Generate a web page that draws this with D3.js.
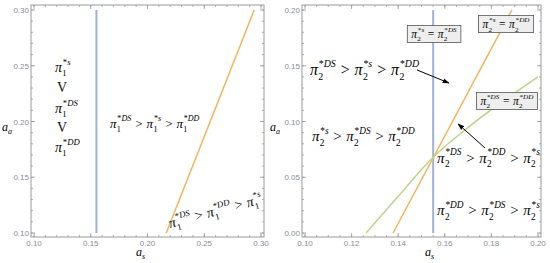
<!DOCTYPE html>
<html>
<head>
<meta charset="utf-8">
<script src="https://cdn.jsdelivr.net/npm/d3@7"></script>
<style>
  body { margin: 0; background: #fff; }
  svg { display: block; }
  text { font-family: "Liberation Serif", "DejaVu Serif", serif; }
  .tick-label { font-family: "Liberation Sans", Arial, sans-serif; font-size: 8px; fill: #8c8c96; }
</style>
</head>
<body>
<svg id="chart"></svg>
<script>
// ---- data ----
const blueAs = 0.155;
const leftTicks = [0.10, 0.15, 0.20, 0.25, 0.30];
const rightXTicks = [0.10, 0.12, 0.14, 0.16, 0.18, 0.20];
const rightYTicks = [0.00, 0.05, 0.10, 0.15, 0.20];
const leftOrange = [{as: 0.2165, aa: 0.10}, {as: 0.294, aa: 0.30}];
const rightOrange = [{as: 0.1378, aa: 0.00}, {as: 0.1888, aa: 0.20}];
const rightGreen = [
    {as: 0.1262, aa: 0.000},
    {as: 0.140, aa: 0.033},
    {as: 0.155, aa: 0.068},
    {as: 0.169, aa: 0.093},
    {as: 0.200, aa: 0.140}
];

const width = 550, height = 263;
const svg = d3.select("#chart").attr("width", width).attr("height", height);

const blue = "#9db2d8", orange = "#f2b45a", green = "#bdd38a";

// arrow marker
svg.append("defs").append("marker")
    .attr("id", "head")
    .attr("viewBox", "0 0 10 10")
    .attr("refX", 9).attr("refY", 5)
    .attr("markerWidth", 7).attr("markerHeight", 7)
    .attr("orient", "auto")
    .append("path").attr("d", "M0,1.5 L10,5 L0,8.5 Z").attr("fill", "#000");

// draws pi terms like  π_1^{*DS} > π_1^{*s}
function mathText(g, x, y, parts, fs) {
    const t = g.append("g").attr("transform", `translate(${x},${y})`);
    let cx = 0;
    parts.forEach(p => {
        if (p.op) {
            const e = t.append("text").attr("x", cx + fs * 0.3).attr("font-size", fs).text(p.op);
            cx += fs * 0.6 + e.node().getComputedTextLength();
        } else {
            const e = t.append("text").attr("x", cx).attr("font-size", fs)
                .attr("font-style", "italic").text("π");
            cx += e.node().getComputedTextLength();
            const sub = t.append("text").attr("x", cx + 0.3).attr("y", fs * 0.3)
                .attr("font-size", fs * 0.62).text(p.sub);
            const sup = t.append("text").attr("x", cx + 0.8).attr("y", -fs * 0.5)
                .attr("font-size", fs * 0.62);
            sup.append("tspan").text("*");
            sup.append("tspan").attr("font-style", "italic").text(p.sup);
            cx += Math.max(sub.node().getComputedTextLength(), sup.node().getComputedTextLength()) + 1;
        }
    });
    return {g: t, width: cx};
}

function drawFrame(g, x, y, frame, xMajors, xMinors, yMajors, yMinors, xFmt, yFmt) {
    g.append("rect")
        .attr("x", frame.x0).attr("y", frame.y0)
        .attr("width", frame.x1 - frame.x0).attr("height", frame.y1 - frame.y0)
        .attr("fill", "none").attr("stroke", "#9a9a9a").attr("stroke-width", 1);
    const tk = g.append("g").attr("stroke", "#9a9a9a").attr("stroke-width", 0.8);
    const addX = (vals, len) => vals.forEach(v => {
        tk.append("line").attr("x1", x(v)).attr("x2", x(v)).attr("y1", frame.y1).attr("y2", frame.y1 - len);
        tk.append("line").attr("x1", x(v)).attr("x2", x(v)).attr("y1", frame.y0).attr("y2", frame.y0 + len);
    });
    const addY = (vals, len) => vals.forEach(v => {
        tk.append("line").attr("y1", y(v)).attr("y2", y(v)).attr("x1", frame.x0).attr("x2", frame.x0 + len);
        tk.append("line").attr("y1", y(v)).attr("y2", y(v)).attr("x1", frame.x1).attr("x2", frame.x1 - len);
    });
    addX(xMajors, 4); addX(xMinors, 2);
    addY(yMajors, 4); addY(yMinors, 2);
    xMajors.forEach(v => g.append("text").attr("class", "tick-label")
        .attr("x", x(v)).attr("y", frame.y1 + 9).attr("text-anchor", "middle").text(xFmt(v)));
    yMajors.forEach(v => g.append("text").attr("class", "tick-label")
        .attr("x", frame.x0 - 2).attr("y", y(v) + 3).attr("text-anchor", "end").text(yFmt(v)));
}

function minorTicks(d0, d1, step) {
    const out = [];
    const n = Math.round((d1 - d0) / step);
    for (let i = 0; i <= n; i++) out.push(+(d0 + i * step).toFixed(4));
    return out;
}

function axisLabel(g, x, y, sub) {
    const t = g.append("text").attr("x", x).attr("y", y).attr("font-size", 12);
    t.append("tspan").attr("font-style", "italic").text("a");
    t.append("tspan").attr("font-style", "italic").attr("font-size", 8).attr("dy", 3).text(sub);
}

const fmt = d3.format(".2f");
const line = d3.line();

// _________________________
// Left panel
// _________________________
const xL = d3.scaleLinear().domain([0.10, 0.30]).range([34, 261]);
const yL = d3.scaleLinear().domain([0.10, 0.30]).range([233, 10]);
const left = svg.append("g");

drawFrame(left, xL, yL, {x0: 31, x1: 264, y0: 5, y1: 237},
    leftTicks, minorTicks(0.10, 0.30, 0.01), leftTicks, minorTicks(0.10, 0.30, 0.01), fmt, fmt);

left.append("path")
    .attr("d", line([[xL(blueAs), yL(0.10)], [xL(blueAs), yL(0.30)]]))
    .attr("stroke", blue).attr("stroke-width", 2).attr("fill", "none");
left.append("path")
    .attr("d", line.x(d => xL(d.as)).y(d => yL(d.aa))(leftOrange))
    .attr("stroke", orange).attr("stroke-width", 1.5).attr("fill", "none");

// stacked ordering on the left
const stack = [
    {p: {sub: "1", sup: "s"}, aa: 0.2444},
    {v: true, aa: 0.2265},
    {p: {sub: "1", sup: "DS"}, aa: 0.2076},
    {v: true, aa: 0.1906},
    {p: {sub: "1", sup: "DD"}, aa: 0.1726}
];
stack.forEach(s => {
    if (s.v) {
        left.append("text").attr("x", xL(0.1247)).attr("y", yL(s.aa))
            .attr("text-anchor", "middle").attr("font-size", 14)
            .attr("font-family", "Liberation Sans").attr("fill", "#111").text("V");
    } else {
        mathText(left, xL(0.1247) - 7, yL(s.aa), [s.p], 14);
    }
});

mathText(left, xL(0.167), yL(0.1942), [
    {sub: "1", sup: "DS"}, {op: ">"}, {sub: "1", sup: "s"}, {op: ">"}, {sub: "1", sup: "DD"}
], 13);

const rot = mathText(left, xL(0.2198), yL(0.1045), [
    {sub: "1", sup: "DS"}, {op: ">"}, {sub: "1", sup: "DD"}, {op: ">"}, {sub: "1", sup: "s"}
], 14);
rot.g.attr("transform", `translate(${xL(0.2198)},${yL(0.1045)}) rotate(-15)`);

axisLabel(left, 136, 256, "s");
axisLabel(svg, 2, 131, "a");

// _________________________
// Right panel
// _________________________
const xR = d3.scaleLinear().domain([0.10, 0.20]).range([305, 538]);
const yR = d3.scaleLinear().domain([0.00, 0.20]).range([233, 10]);
const right = svg.append("g");

drawFrame(right, xR, yR, {x0: 302, x1: 541, y0: 5, y1: 237},
    rightXTicks, minorTicks(0.10, 0.20, 0.005), rightYTicks, minorTicks(0.00, 0.20, 0.01), fmt, fmt);

right.append("path")
    .attr("d", d3.line()([[xR(blueAs), yR(0.00)], [xR(blueAs), yR(0.20)]]))
    .attr("stroke", blue).attr("stroke-width", 2).attr("fill", "none");
right.append("path")
    .attr("d", d3.line().x(d => xR(d.as)).y(d => yR(d.aa))(rightOrange))
    .attr("stroke", orange).attr("stroke-width", 1.5).attr("fill", "none");
right.append("path")
    .attr("d", d3.line().x(d => xR(d.as)).y(d => yR(d.aa)).curve(d3.curveMonotoneX)(rightGreen))
    .attr("stroke", green).attr("stroke-width", 1.5).attr("fill", "none");

mathText(right, xR(0.1021), yR(0.1417), [
    {sub: "2", sup: "DS"}, {op: ">"}, {sub: "2", sup: "s"}, {op: ">"}, {sub: "2", sup: "DD"}
], 16);
mathText(right, xR(0.103), yR(0.0825), [
    {sub: "2", sup: "s"}, {op: ">"}, {sub: "2", sup: "DS"}, {op: ">"}, {sub: "2", sup: "DD"}
], 15);
mathText(right, xR(0.1567), yR(0.0628), [
    {sub: "2", sup: "DS"}, {op: ">"}, {sub: "2", sup: "DD"}, {op: ">"}, {sub: "2", sup: "s"}
], 15);
mathText(right, xR(0.1567), yR(0.0161), [
    {sub: "2", sup: "DD"}, {op: ">"}, {sub: "2", sup: "DS"}, {op: ">"}, {sub: "2", sup: "s"}
], 15);

// boxed equality labels
const boxes = [
    {as: 0.1554, aa: 0.1785, a: "s", b: "DS"},
    {as: 0.1863, aa: 0.1874, a: "s", b: "DD"},
    {as: 0.1867, aa: 0.1184, a: "DS", b: "DD"}
];
boxes.forEach(b => {
    const bg = right.append("g");
    const rect = bg.append("rect");
    const m = mathText(bg, 0, 0, [{sub: "2", sup: b.a}, {op: "="}, {sub: "2", sup: b.b}], 11.5);
    const w = m.width + 8, h = 17;
    const cx = xR(b.as), cy = yR(b.aa);
    rect.attr("x", cx - w / 2).attr("y", cy - h / 2).attr("width", w).attr("height", h)
        .attr("fill", "#eeeeee").attr("stroke", "#555").attr("stroke-width", 0.8);
    m.g.attr("transform", `translate(${cx - m.width / 2},${cy + 4})`);
});

// arrows
const arrows = [
    [[0.1481, 0.1462], [0.1618, 0.1345]],
    [[0.1773, 0.0762], [0.1657, 0.0978]]
];
arrows.forEach(a => {
    right.append("line")
        .attr("x1", xR(a[0][0])).attr("y1", yR(a[0][1]))
        .attr("x2", xR(a[1][0])).attr("y2", yR(a[1][1]))
        .attr("stroke", "#000").attr("stroke-width", 1)
        .attr("marker-end", "url(#head)");
});

axisLabel(right, 425, 256, "s");
axisLabel(svg, 270, 131, "a");
</script>
</body>
</html>
